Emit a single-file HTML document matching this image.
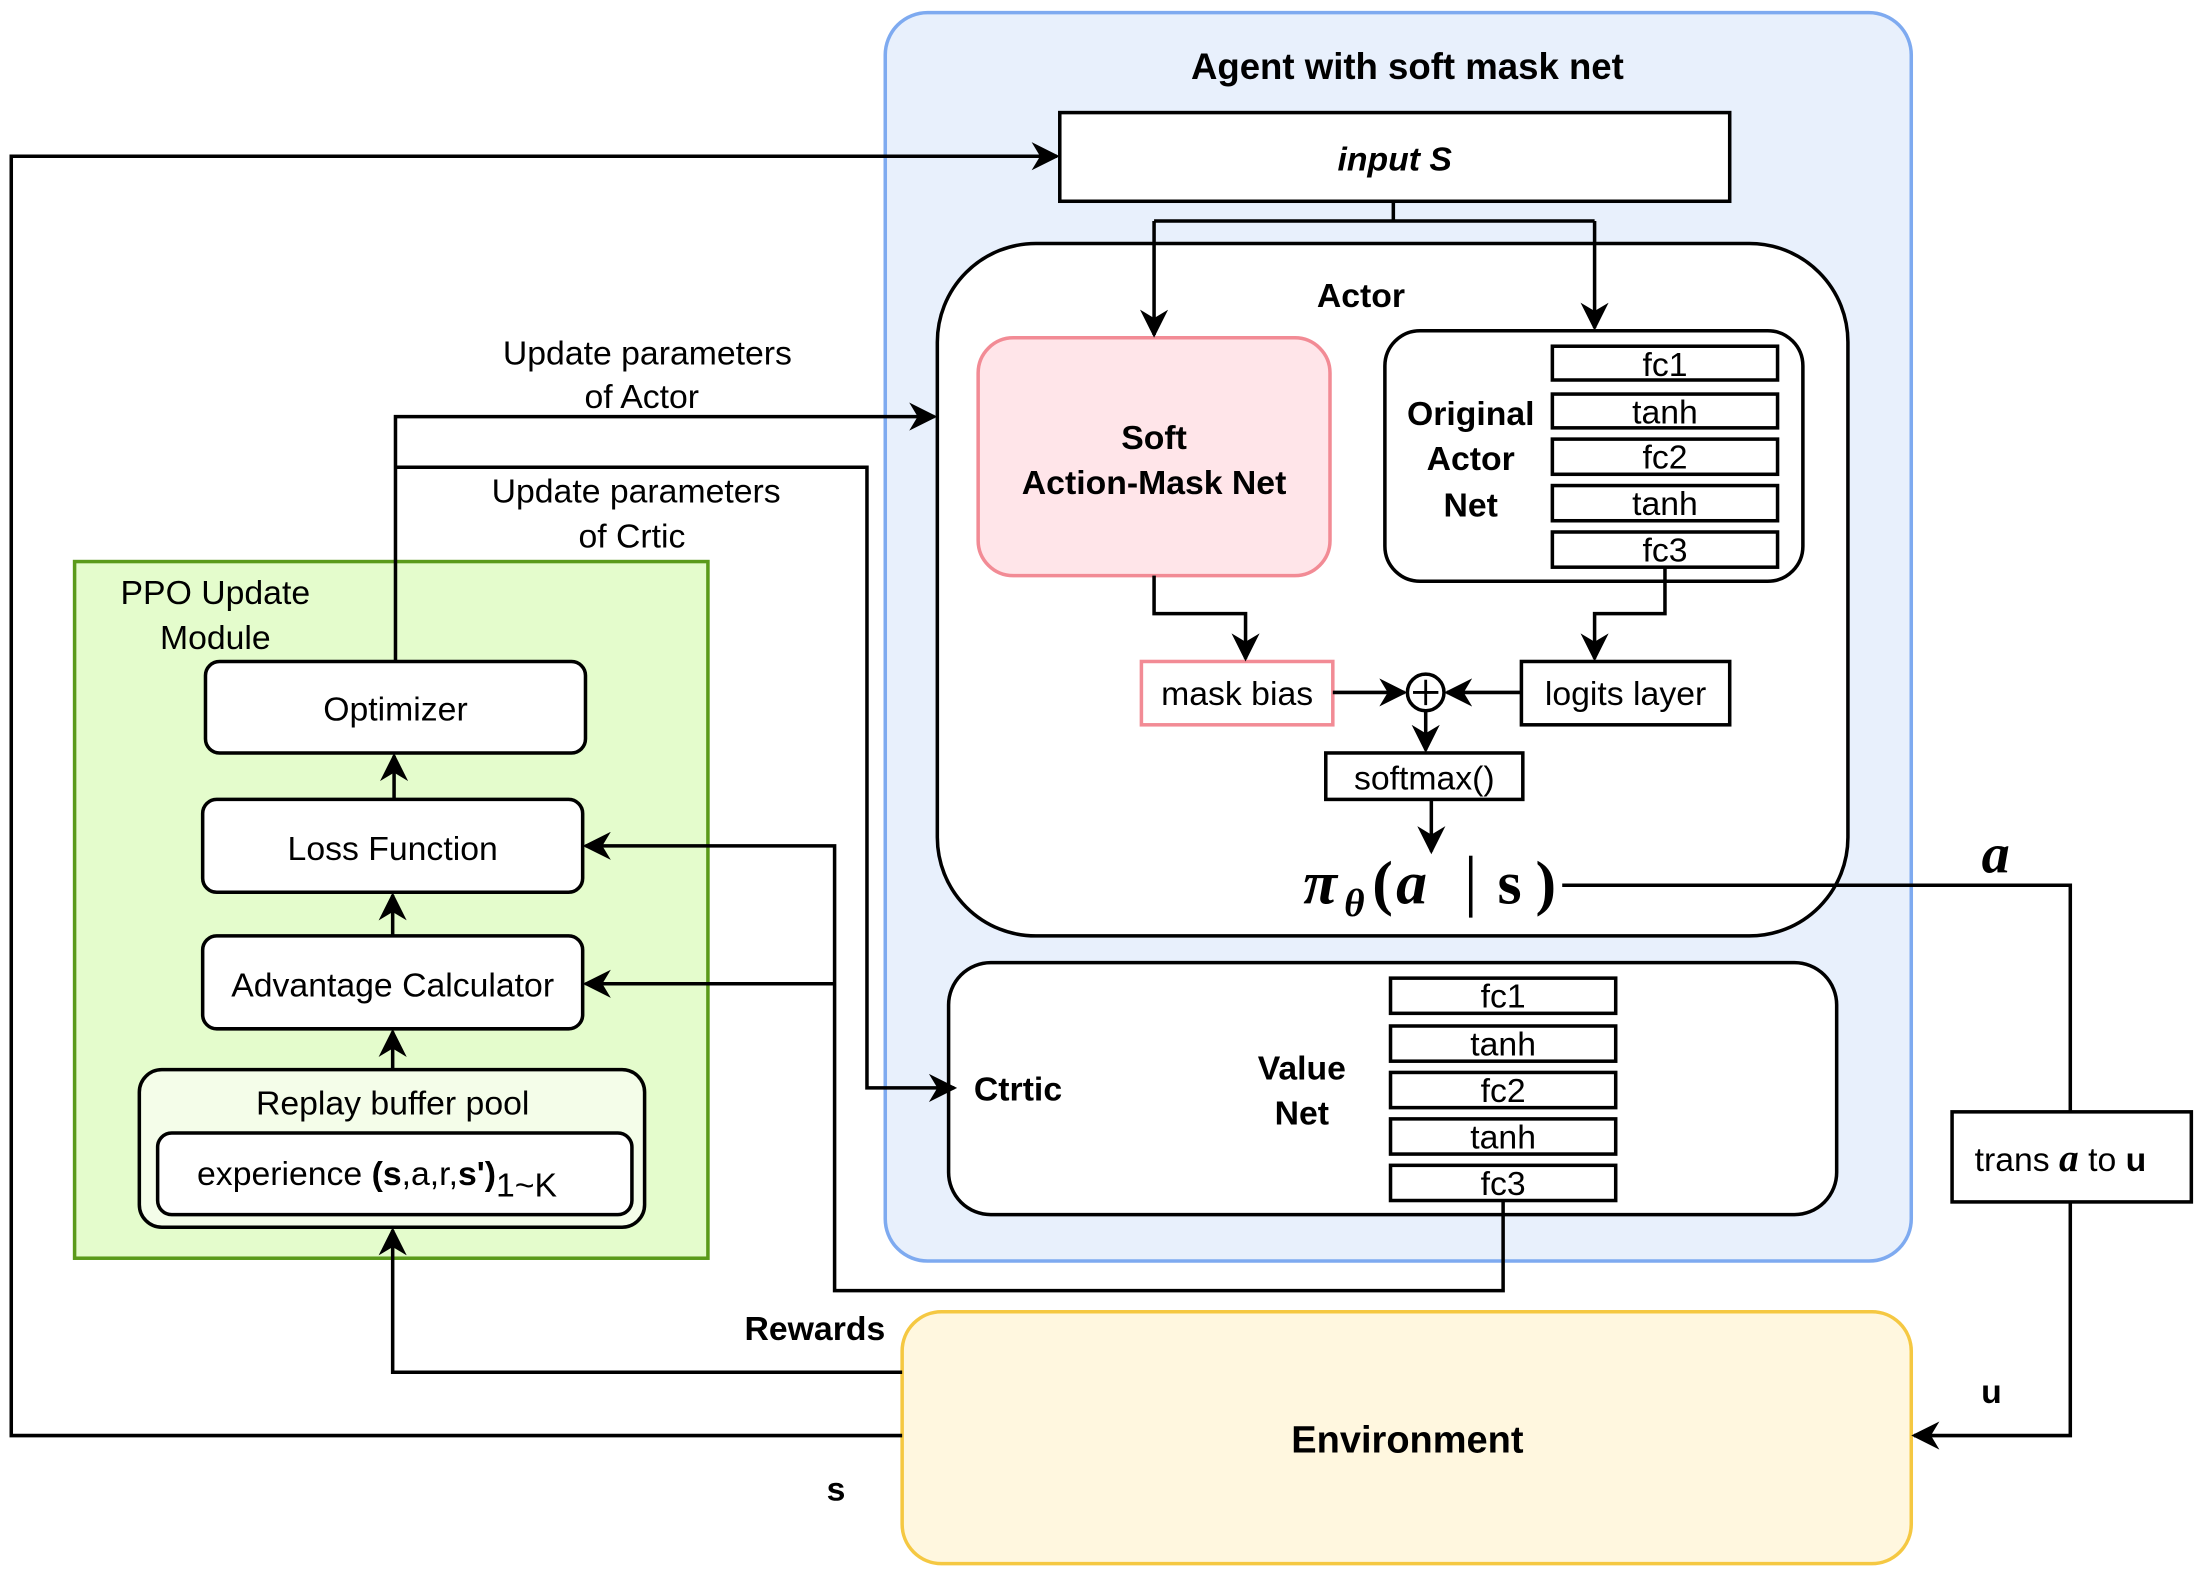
<!DOCTYPE html>
<html><head><meta charset="utf-8">
<style>
html,body{margin:0;padding:0;background:#fff;}
svg{display:block;}
text{font-family:"Liberation Sans",sans-serif;fill:#000;}
.b{font-weight:bold;}
</style></head>
<body>
<svg width="2204" height="1577" viewBox="0 0 1566 1120.5" preserveAspectRatio="none" xmlns="http://www.w3.org/2000/svg">
<defs>
<marker id="a2" viewBox="0 0 10 10" refX="9" refY="5" markerWidth="20" markerHeight="20" orient="auto" markerUnits="userSpaceOnUse">
<path d="M0,0 L10,5 L0,10 L3,5 z" fill="#000"/>
</marker>
</defs>
<g stroke="#000" stroke-width="2.5" fill="none">
<rect x="629" y="9" width="729" height="887" rx="30" fill="#e8f0fc" stroke="#7eaaf0"/>
<rect x="641" y="932" width="717" height="179" rx="28" fill="#fff7df" stroke="#f5c842"/>
<rect x="53" y="399" width="450" height="495" fill="#e4fccc" stroke="#5a9a1a"/>
<rect x="753" y="80" width="476" height="63" fill="#fff"/>
<rect x="666" y="173" width="647" height="492" rx="70" fill="#fff"/>
<rect x="695" y="240" width="250" height="169" rx="25" fill="#ffe5e9" stroke="#f28b95"/>
<rect x="984" y="235" width="297" height="178" rx="25" fill="#fff"/>
<rect x="1103" y="246" width="160" height="24" fill="#fff"/>
<rect x="1103" y="280" width="160" height="24" fill="#fff"/>
<rect x="1103" y="312" width="160" height="25" fill="#fff"/>
<rect x="1103" y="345" width="160" height="25" fill="#fff"/>
<rect x="1103" y="378" width="160" height="25" fill="#fff"/>
<rect x="811" y="470" width="136" height="45" fill="#fff" stroke="#f28b95"/>
<rect x="1081" y="470" width="148" height="45" fill="#fff"/>
<circle cx="1013" cy="492" r="13" fill="#fff"/>
<path d="M1004,492 H1022 M1013,483 V501" stroke-width="2"/>
<rect x="942" y="535" width="140" height="33" fill="#fff"/>
<rect x="674" y="684" width="631" height="179" rx="30" fill="#fff"/>
<rect x="988" y="695" width="160" height="25" fill="#fff"/>
<rect x="988" y="729" width="160" height="25" fill="#fff"/>
<rect x="988" y="762" width="160" height="25" fill="#fff"/>
<rect x="988" y="795" width="160" height="25" fill="#fff"/>
<rect x="988" y="828" width="160" height="25" fill="#fff"/>
<rect x="1387" y="790" width="170" height="64" fill="#fff"/>
<rect x="146" y="470" width="270" height="65" rx="10" fill="#fff"/>
<rect x="144" y="568" width="270" height="66" rx="10" fill="#fff"/>
<rect x="144" y="665" width="270" height="66" rx="10" fill="#fff"/>
<rect x="99" y="760" width="359" height="112" rx="16" fill="#f4fde9"/>
<rect x="112" y="805" width="337" height="58" rx="10" fill="#fff"/>

<path d="M990,143 V157 M820,157 H1133 M820,157 V238" marker-end="url(#a2)"/>
<path d="M1133,157 V233" marker-end="url(#a2)"/>
<path d="M820,409 V436 H885 V468" marker-end="url(#a2)"/>
<path d="M1183,403 V436 H1133 V468" marker-end="url(#a2)"/>
<path d="M947,492 H998" marker-end="url(#a2)"/>
<path d="M1081,492 H1028" marker-end="url(#a2)"/>
<path d="M1013,505 V533" marker-end="url(#a2)"/>
<path d="M1017,568 V605" marker-end="url(#a2)"/>
<path d="M1110,629 H1471 V790"/>
<path d="M1471,854 V1020 H1360" marker-end="url(#a2)"/>
<path d="M1068,853 V917 H593 V601 H416" marker-end="url(#a2)"/>
<path d="M593,699 H416" marker-end="url(#a2)"/>
<path d="M279,760 V733" marker-end="url(#a2)"/>
<path d="M279,665 V636" marker-end="url(#a2)"/>
<path d="M280,568 V537" marker-end="url(#a2)"/>
<path d="M281,470 V296 H664" marker-end="url(#a2)"/>
<path d="M281,332 H616 V773 H678" marker-end="url(#a2)"/>
<path d="M641,975 H279 V874" marker-end="url(#a2)"/>
<path d="M641,1020 H8 V111 H751" marker-end="url(#a2)"/>
<path d="M1045,608 V652" stroke-width="2.5"/>
</g>

<g font-size="24" text-anchor="middle">
<text x="1000" y="56" class="b" font-size="26">Agent with soft mask net</text>
<text x="991" y="121" class="b" font-style="italic">input S</text>
<text x="967" y="218" class="b">Actor</text>
<text x="820" y="319" class="b">Soft</text>
<text x="820" y="351" class="b">Action-Mask Net</text>
<text x="1045" y="302" class="b">Original</text>
<text x="1045" y="334" class="b">Actor</text>
<text x="1045" y="367" class="b">Net</text>
<text x="1183" y="267">fc1</text>
<text x="1183" y="301">tanh</text>
<text x="1183" y="333">fc2</text>
<text x="1183" y="366">tanh</text>
<text x="1183" y="399">fc3</text>
<text x="879" y="501">mask bias</text>
<text x="1155" y="501">logits layer</text>
<text x="1012" y="561">softmax()</text>
<text x="1068" y="716">fc1</text>
<text x="1068" y="750">tanh</text>
<text x="1068" y="783">fc2</text>
<text x="1068" y="816">tanh</text>
<text x="1068" y="849">fc3</text>
<text x="925" y="767" class="b">Value</text>
<text x="925" y="799" class="b">Net</text>
<text x="1000" y="1032" class="b" font-size="27">Environment</text>
<text x="153" y="429">PPO Update</text>
<text x="153" y="461">Module</text>
<text x="281" y="512">Optimizer</text>
<text x="279" y="611">Loss Function</text>
<text x="279" y="708">Advantage Calculator</text>
<text x="279" y="792">Replay buffer pool</text>
<text x="460" y="259">Update parameters</text>
<text x="456" y="290">of Actor</text>
<text x="452" y="357">Update parameters</text>
<text x="449" y="389">of Crtic</text>
<text x="579" y="952" class="b">Rewards</text>
<text x="594" y="1066" class="b">s</text>
<text x="1415" y="997" class="b">u</text>
</g>
<text x="692" y="782" font-size="24" class="b">Ctrtic</text>
<text x="140" y="842" font-size="24">experience <tspan font-weight="bold">(s</tspan>,a,r,<tspan font-weight="bold">s')</tspan><tspan dy="8">1~K</tspan></text>
<text x="1403" y="832" font-size="24">trans <tspan style="font-family:'Liberation Serif',serif;font-style:italic;font-weight:bold;font-size:28px">a</tspan> to <tspan font-weight="bold">u</tspan></text>
<text x="1408" y="620" style="font-family:'Liberation Serif',serif;font-style:italic;font-weight:bold;font-size:40px">a</text>
<g style="font-family:'Liberation Serif',serif;font-weight:bold;font-size:44px">
<text x="926" y="642" style="font-family:'Liberation Serif',serif;font-style:italic;font-size:44px">π</text>
<text x="955" y="651" style="font-family:'Liberation Serif',serif;font-style:italic;font-size:28px">θ</text>
<text x="975" y="642" style="font-family:'Liberation Serif',serif;font-size:44px">(</text>
<text x="992" y="642" style="font-family:'Liberation Serif',serif;font-style:italic;font-size:44px">a</text>
<text x="1064" y="642" style="font-family:'Liberation Serif',serif;font-size:44px">s</text>
<text x="1091" y="642" style="font-family:'Liberation Serif',serif;font-size:44px">)</text>
</g>
</svg>
</body></html>
